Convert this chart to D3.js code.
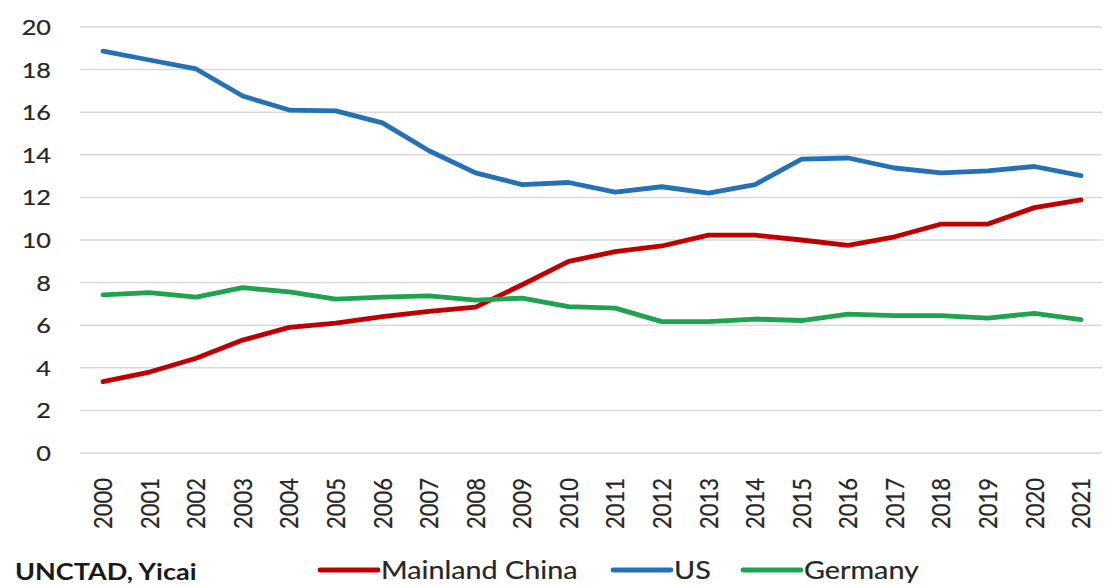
<!DOCTYPE html>
<html>
<head>
<meta charset="utf-8">
<script src="https://cdn.jsdelivr.net/npm/d3@7"></script>
<style>
  body { margin: 0; background: #fff; }
  text { font-family: Lato, "Open Sans", sans-serif; fill: #262626; stroke: #262626; stroke-width: 0.2px; }
</style>
</head>
<body>
<div id="chart"></div>
<script>
// datos
const years = ["2000","2001","2002","2003","2004","2005","2006","2007","2008","2009","2010",
               "2011","2012","2013","2014","2015","2016","2017","2018","2019","2020","2021"]
const china   = [3.35,3.8,4.45,5.3,5.9,6.1,6.4,6.65,6.85,7.9,9.0,9.45,9.72,10.23,10.23,10.0,9.75,10.15,10.75,10.75,11.52,11.88]
const us      = [18.87,18.45,18.03,16.76,16.1,16.06,15.5,14.19,13.15,12.6,12.7,12.25,12.5,12.2,12.6,13.8,13.85,13.38,13.15,13.25,13.45,13.02]
const germany = [7.42,7.53,7.32,7.76,7.56,7.22,7.32,7.38,7.18,7.27,6.87,6.8,6.17,6.17,6.29,6.22,6.52,6.45,6.45,6.33,6.56,6.26]
const yTicks = [0,2,4,6,8,10,12,14,16,18,20]

const series = [
  {name:"Mainland China", values:china,   color:"#c00000"},
  {name:"US",             values:us,      color:"#2471b5"},
  {name:"Germany",        values:germany, color:"#1fa34e"}
]

const width = 1105
const height = 586
const stretch = 1.15   // el texto del original está algo ensanchado

const svg = d3.select("#chart")
    .append("svg")
    .attr("width", width)
    .attr("height", height)

// escalas
const x = d3.scalePoint()
    .domain(years)
    .range([103, 1081])
const y = d3.scaleLinear()
    .domain([0, 20])
    .range([453, 27])

// rejilla
svg.append("g")
    .selectAll("line")
    .data(yTicks)
    .join("line")
    .attr("x1", 80)
    .attr("x2", 1102)
    .attr("y1", d => y(d))
    .attr("y2", d => y(d))
    .attr("stroke", "#d9d9d9")
    .attr("stroke-width", 1.5)

// etiquetas eje y
svg.append("g")
    .selectAll("text")
    .data(yTicks)
    .join("text")
    .attr("transform", d => `translate(51,${y(d)}) scale(${stretch},1)`)
    .attr("text-anchor", "end")
    .attr("dy", "0.36em")
    .style("font-size", "22px")
    .text(d => d)

// etiquetas eje x
svg.append("g")
    .selectAll("text")
    .data(years)
    .join("text")
    .attr("transform", d => `translate(${x(d)},478) scale(${stretch},1) rotate(-90)`)
    .attr("text-anchor", "end")
    .attr("dy", "0.36em")
    .style("font-size", "22px")
    .text(d => d)

// líneas
const line = d3.line()
    .x((d, i) => x(years[i]))
    .y(d => y(d))

svg.append("g")
    .selectAll("path")
    .data(series)
    .join("path")
    .attr("d", d => line(d.values))
    .attr("fill", "none")
    .attr("stroke", d => d.color)
    .attr("stroke-width", 4.8)
    .attr("stroke-linejoin", "round")
    .attr("stroke-linecap", "round")

// fuente
svg.append("text")
    .attr("transform", `translate(15,580) scale(${stretch},1)`)
    .style("font-size", "23.5px")
    .style("font-weight", "bold")
    .style("fill", "#1a1a1a")
    .style("stroke", "none")
    .text("UNCTAD, Yicai")

// leyenda
const legendX = [320, 613, 743]
const legend = svg.append("g")
    .selectAll("g")
    .data(series)
    .join("g")
    .attr("transform", (d, i) => `translate(${legendX[i]},570)`)

legend.append("line")
    .attr("x1", 0)
    .attr("x2", 58)
    .attr("stroke", d => d.color)
    .attr("stroke-width", 4.8)
    .attr("stroke-linecap", "round")

legend.append("text")
    .attr("transform", `translate(61,0) scale(${stretch},1)`)
    .attr("dy", "0.36em")
    .style("font-size", "25px")
    .text(d => d.name)
</script>
</body>
</html>
